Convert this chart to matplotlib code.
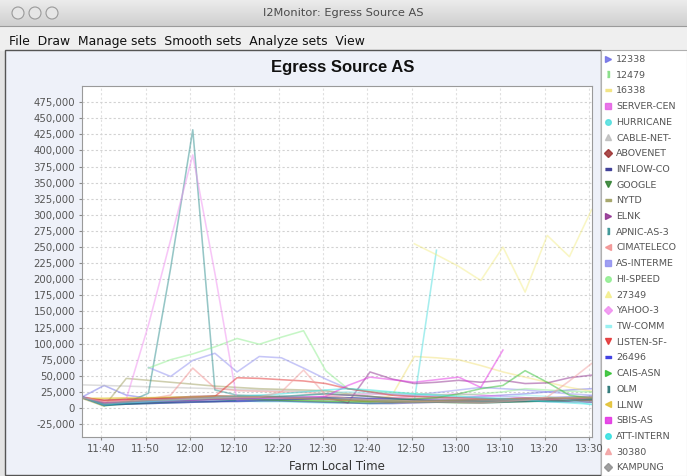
import numpy as np
import matplotlib
matplotlib.use("Agg")
import matplotlib.pyplot as plt
from matplotlib.patches import Rectangle, Circle
from matplotlib.lines import Line2D
from matplotlib.ticker import FuncFormatter
from matplotlib.colors import LinearSegmentedColormap

W, H = 687, 476  # window size in px

# ── Data (values in thousands, sampled every 5 min) ──────────────────────────
minutes = [35.6, 40.6, 45.6, 50.6, 55.6, 60.6, 65.6, 70.6, 75.6, 80.6, 85.6, 90.6,
           95.6, 100.6, 105.6, 110.6, 115.6, 120.6, 125.6, 130.6, 135.6, 140.6, 145.6, 150.6]
tick_minutes = [40, 50, 60, 70, 80, 90, 100, 110, 120, 130, 140, 150]
tick_labels = ["11:40", "11:50", "12:00", "12:10", "12:20", "12:30",
               "12:40", "12:50", "13:00", "13:10", "13:20", "13:30"]
y_ticks = list(range(-25000, 475001, 25000))

s_12338 = [17, 35, 20, 15, 16, 17, 18, 18, 17, 16, 15, 14, 12, 10, 12, 14, 15, 16, 18, 20, 22, 25, 28, 30]
s_12479 = [17, 3, 8, 10, 11, 12, 12, 13, 13, 12, 11, 10, 9, 8, 9, 10, 11, 12, 13, 12, 11, 12, 13, 14]
s_16338 = [15, 15, 15, 16, 16, 16, 15, 14, 13, 12, 11, 10, 8, 10, 20, 80, 78, 75, 66, 56, 48, 40, 32, 26]
s_server_cen = [18, 10, 12, 13, 14, 15, 16, 17, 16, 15, 14, 13, 12, 14, 16, 18, 20, 22, 20, 18, 16, 15, 14, 13]
s_hurricane = [17, 5, 8, 10, 11, 12, 12, 11, 10, 10, 9, 8, 8, 7, 8, 11, 245,
               None, None, None, None, None, None, None]
s_cable_net = [36, 35, 34, 33, 32, 31, 30, 29, 28, 27, 26, 25, 24, 22, 20, 18, 16, 15, 14, 13, 12, 11, 10, 10]
s_abovenet = [16, 12, 14, 15, 16, 18, 19, 18, 17, 16, 15, 14, 12, 10, 9, 10, 11, 12, 13, 14, 15, 14, 13, 12]
s_inflow = [17, 6, 7, 8, 9, 10, 10, 10, 11, 11, 10, 9, 8, 7, 7, 8, 9, 10, 10, 11, 11, 10, 10, 9]
s_google = [16, 4, 6, 7, 8, 9, 10, 12, 14, 15, 16, 17, 16, 14, 12, 10, 9, 8, 8, 9, 10, 11, 12, 12]
s_nytd = [15, 3, 46, 43, 40, 37, 34, 32, 30, 29, 28, 27, 22, 18, 15, 13, 11, 10, 10, 11, 12, 13, 14, 15]
s_elnk = [16, 8, 10, 11, 12, 13, 14, 15, 14, 13, 14, 17, 8, 56, 45, 38, 40, 43, 40, 43, 38, 39, 47, 51]
s_apnic = [18, 4, 8, 23, 217, 432, 28, 20, 19, 18, 17, 15, 13, 11, 10, 11, 12, 12, 11, 10, 11, 12, 13, 14]
s_cimateleco = [17, 10, 12, 14, 20, 62, 31, 27, 26, 25, 24, 22, 20, 18, 16, 15, 14, 14, 13, 13, 12, 12, 12, 12]
s_as_interme = [None, None, None, 63, 49, 74, 85, 56, 80, 78, 62, 45, 30, 25, 22, 20, 24, 28, 32, 30, 28, 25, 22, 20]
s_hi_speed = [None, None, None, 62, 75, 84, 95, 108, 99, 110, 120, 58, 30, 26, 24, 22, 21, 20, 22, 25, 30, 28, 26, 25]
s_27349 = [None, None, None, None, None, None, None, None, None, None, None, None, None, None, None,
           255, 238, 220, 198, 250, 180, 268, 235, 308]
s_yahoo = [17, 5, 14, 129, 261, 393, 209, 12, 14, 15, 16, 18, 20, 22, 22, 20, 18, 16, 15, 14, 13, 13, 14, 15]
s_tw_comm = [17, 6, 9, 10, 11, 12, 13, 14, 15, 16, 20, 22, 25, 24, 22, 20, 18, 16, 15, 17, 20, 18, 12, 5]
s_listen = [16, 12, 13, 14, 15, 16, 18, 47, 46, 44, 42, 38, 30, 25, 20, 18, 17, 16, 15, 14, 13, 14, 15, 16]
s_26496 = [17, 5, 6, 7, 8, 9, 10, 11, 12, 13, 14, 15, 16, 15, 14, 13, 12, 12, 13, 14, 15, 16, 17, 18]
s_cais = [16, 8, 10, 11, 12, 13, 14, 14, 13, 12, 12, 11, 10, 10, 12, 14, 16, 22, 30, 35, 58, 40, 20, 15]
s_olm = [17, 5, 6, 8, 10, 12, 14, 15, 16, 18, 20, 22, 20, 18, 15, 12, 10, 9, 8, 9, 10, 11, 12, 13]
s_llnw = [15, 15, 16, 16, 17, 17, 18, 18, 17, 16, 15, 14, 12, 11, 10, 10, 11, 12, 13, 14, 15, 16, 16, 17]
s_sbis = [17, 8, 9, 10, 11, 12, 13, 14, 15, 16, 17, 18, 35, 48, 44, 40, 44, 48, 32, 90, None, None, None, None]
s_att = [17, 5, 8, 10, 12, 14, 16, 18, 20, 22, 25, 28, 30, 28, 25, 22, 20, 18, 16, 14, 12, 10, 8, 6]
s_30380 = [16, 10, 11, 12, 13, 14, 15, 16, 17, 25, 59, 20, 15, 13, 12, 11, 10, 9, 8, 10, 12, 17, 42, 69]
s_kampung = [16, 6, 9, 12, 14, 16, 17, 18, 18, 17, 16, 15, 14, 12, 10, 9, 9, 10, 11, 12, 13, 14, 15, 16]

series_names = ["12338", "12479", "16338", "SERVER-CEN", "HURRICANE", "CABLE-NET-", "ABOVENET",
                "INFLOW-CO", "GOOGLE", "NYTD", "ELNK", "APNIC-AS-3", "CIMATELECO", "AS-INTERME",
                "HI-SPEED", "27349", "YAHOO-3", "TW-COMM", "LISTEN-SF-", "26496", "CAIS-ASN",
                "OLM", "LLNW", "SBIS-AS", "ATT-INTERN", "30380", "KAMPUNG"]
series_values = [s_12338, s_12479, s_16338, s_server_cen, s_hurricane, s_cable_net, s_abovenet,
                 s_inflow, s_google, s_nytd, s_elnk, s_apnic, s_cimateleco, s_as_interme,
                 s_hi_speed, s_27349, s_yahoo, s_tw_comm, s_listen, s_26496, s_cais,
                 s_olm, s_llnw, s_sbis, s_att, s_30380, s_kampung]

# ── Styles ───────────────────────────────────────────────────────────────────
VRECT = [(-0.4, -1), (0.4, -1), (0.4, 1), (-0.4, 1)]
HRECT = [(-1, -0.4), (1, -0.4), (1, 0.4), (-1, 0.4)]
series_colors = ["#6f6fe6", "#7fdc7f", "#f2e27a", "#e45fe4", "#4fdede", "#bdbdbd", "#9c2f2f",
                 "#2f2f8f", "#2f7f2f", "#9f9f5f", "#8f2f8f", "#2f8f8f", "#f29090", "#8f8ff0",
                 "#8fee8f", "#f4ee8a", "#f08ff0", "#8ff0f0", "#e23030", "#3030e0", "#30c030",
                 "#1f6f6f", "#e2c02f", "#e230e2", "#30e0e0", "#f2a0a0", "#8f8f8f"]
series_markers = [">", VRECT, HRECT, "s", "o", "^", "D", HRECT, "v", HRECT, ">", VRECT, "<", "s",
                  "o", "^", "D", HRECT, "v", HRECT, ">", VRECT, "<", "s", "o", "^", "D"]

fig = plt.figure(figsize=(W / 100, H / 100), dpi=100)

# ── Window chrome (pixel coordinates) ────────────────────────────────────────
bg = fig.add_axes([0, 0, 1, 1], zorder=0)
bg.set_xlim(0, W)
bg.set_ylim(H, 0)
bg.axis("off")
bg.add_patch(Rectangle((0, 0), W, H, color="#e4e4e4"))
grad = np.linspace(0, 1, 50).reshape(-1, 1)
bg.imshow(grad, extent=[0, W, 26, 0], aspect="auto", zorder=1,
          cmap=LinearSegmentedColormap.from_list("tb", ["#ececec", "#cfcfcf"]))
bg.plot([0, W], [26, 26], color="#9a9a9a", lw=0.8, zorder=2)
bg.add_patch(Rectangle((0, 27), W, 23, color="#efefef", zorder=1))
for cx in (18, 35, 52):
    bg.add_patch(Circle((cx, 13), 6, facecolor="#e6e6e6", edgecolor="#9a9a9a", lw=0.8, zorder=3))
bg.text(W / 2, 13, "I2Monitor: Egress Source AS", ha="center", va="center",
        fontsize=8.2, color="#4a4a4a", zorder=3)
bg.text(9, 42, "File  Draw  Manage sets  Smooth sets  Analyze sets  View", ha="left", va="center",
        fontsize=8.9, color="#111111", zorder=3)
# chart panel and legend panel
bg.add_patch(Rectangle((5, 50), 596, 425, facecolor="#eef1f9", edgecolor="#555555", lw=1.0, zorder=1))
bg.add_patch(Rectangle((601, 50), 86, 426, facecolor="white", edgecolor="#b0b0b0", lw=0.8, zorder=1))

# ── Plot ─────────────────────────────────────────────────────────────────────
ax = fig.add_axes([82 / W, (H - 437) / H, 510 / W, 351 / H], zorder=2)
ax.set_facecolor("white")
x = np.array(minutes)
for vals, col in zip(series_values, series_colors):
    y = np.array(vals, dtype=float) * 1000
    ax.plot(x, y, color=col, lw=1.15, alpha=0.5)

ax.set_xlim(35.6, 150.7)
ax.set_ylim(-45000, 500000)
ax.set_xticks(tick_minutes)
ax.set_xticklabels(tick_labels)
ax.set_yticks(y_ticks)
ax.yaxis.set_major_formatter(FuncFormatter(lambda v, p: f"{v:,.0f}"))
ax.tick_params(labelsize=7.3, labelcolor="#555555", color="#888888", length=2.5, width=0.8, pad=2.5)
ax.grid(True, axis="y", color="#d2d2d2", linestyle=(0, (2, 2)), lw=0.8)
ax.grid(True, axis="x", color="#e0e0e0", linestyle=(0, (2, 2)), lw=0.8)
ax.set_axisbelow(True)
for sp in ax.spines.values():
    sp.set_color("#9a9a9a")
    sp.set_linewidth(0.8)
ax.set_xlabel("Farm Local Time", fontsize=8.5, color="#333333", labelpad=4)

fig.text(343 / W, 1 - 68 / H, "Egress Source AS", ha="center", va="center",
         fontsize=12, fontweight="bold", family="Liberation Sans", color="#111111")

# ── Legend ───────────────────────────────────────────────────────────────────
handles = [Line2D([], [], linestyle="none", marker=m, color=c, markersize=4, alpha=0.85)
           for m, c in zip(series_markers, series_colors)]
leg = fig.legend(handles, series_names, loc="upper left", bbox_to_anchor=(604 / W, 1 - 55 / H),
                 frameon=False, fontsize=6.8, handlelength=0.8, handletextpad=0.5,
                 labelspacing=0.71, borderpad=0, borderaxespad=0)
for t in leg.get_texts():
    t.set_color("#555555")

fig.savefig("out.png", dpi=100)
